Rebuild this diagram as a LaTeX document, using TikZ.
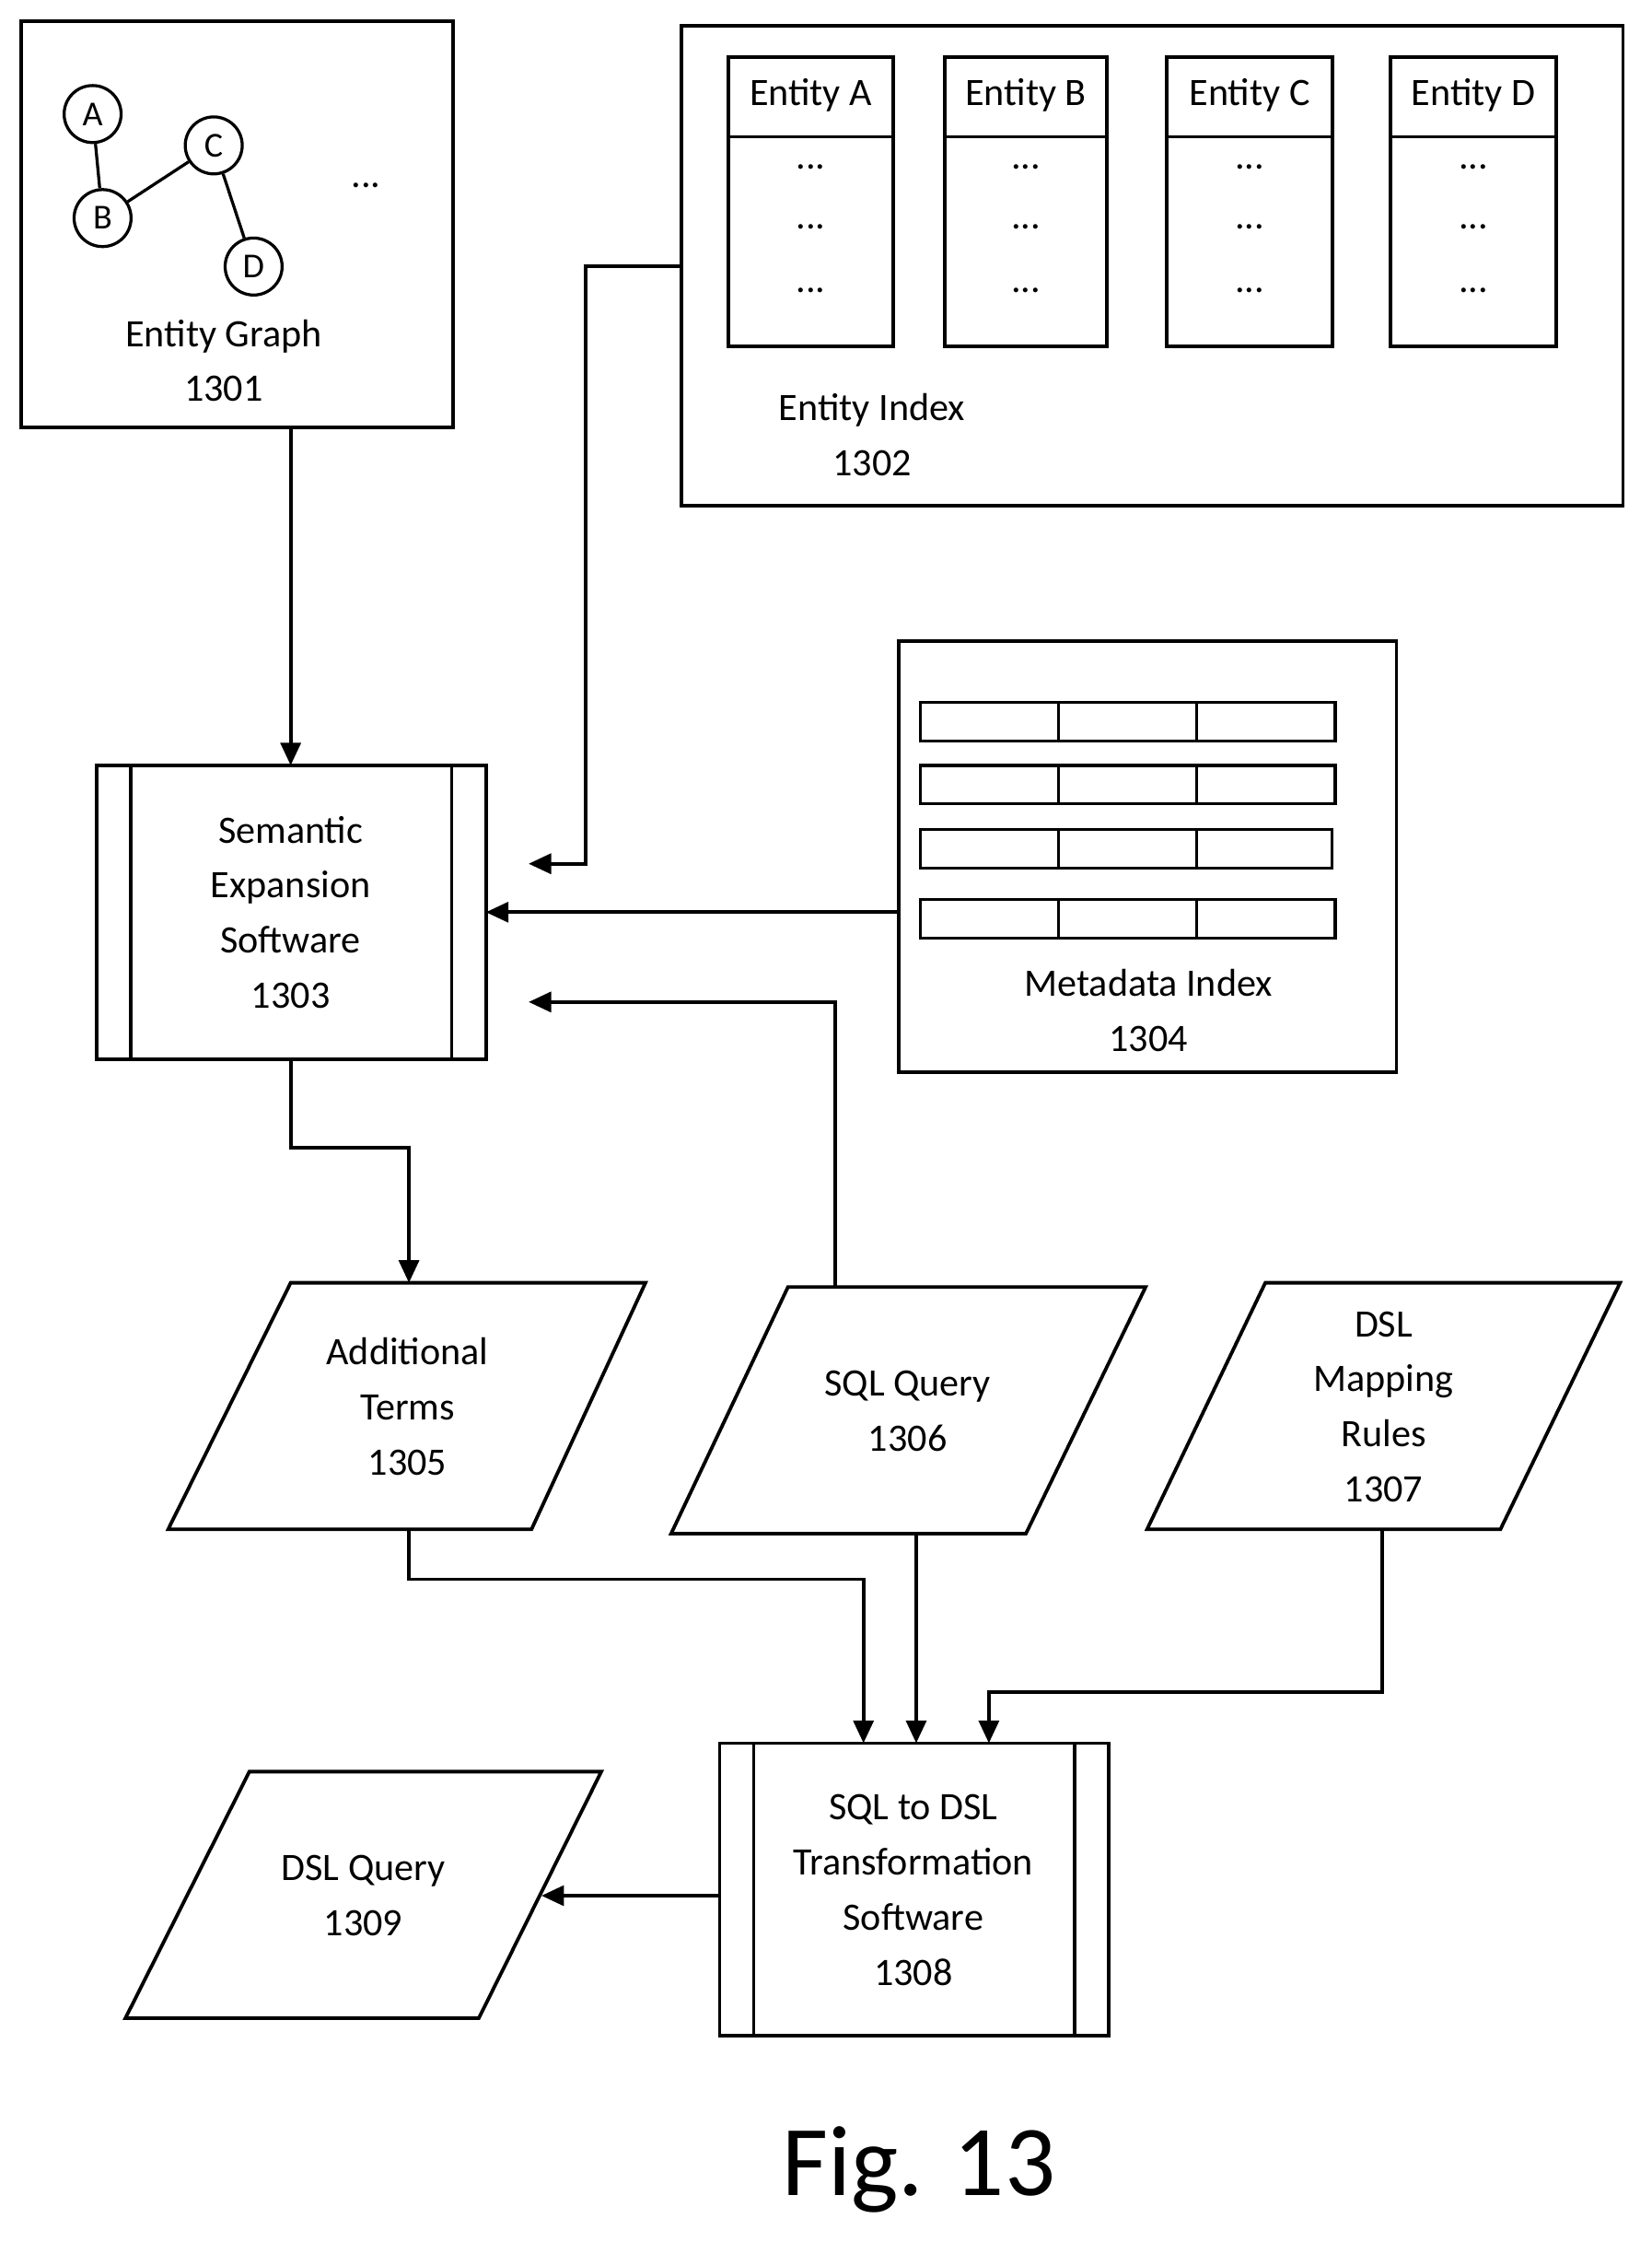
\documentclass[tikz,border=0pt]{standalone}
\usepackage{fontspec}
\setmainfont{Carlito}
\usetikzlibrary{arrows.meta}
\begin{document}
\begin{tikzpicture}[x=0.02cm,y=-0.02cm,
  box/.style={draw,line width=1.4pt},
  lbl/.style={align=center,font=\fontsize{15.5}{22}\selectfont},
  arr/.style={line width=1.4pt,-{Triangle[length=9pt,width=8pt]}},
  circ/.style={draw,circle,line width=1.2pt,minimum size=0.8cm,inner sep=0pt,font=\fontsize{14}{16}\selectfont}]
\useasboundingbox (0,0) rectangle (1159,1573);
% Entity graph
\draw[box] (15,15) rectangle (318,300);
\node[circ] (A) at (65,80) {A};
\node[circ] (B) at (72,153) {B};
\node[circ] (C) at (150,102) {C};
\node[circ] (D) at (178,187) {D};
\draw[line width=1.2pt] (A)--(B) (B)--(C) (C)--(D);
\node[lbl] (gd) at (257,130) {...};
\node[lbl] (eg) at (157,253) {Entity Graph\\1301};
\coordinate (egb) at (204,300);
% Entity index
\draw[box] (478,18) rectangle (1139,355);
\foreach \x/\w/\n in {511/627/A,663/777/B,819/935/C,976/1092/D}{
  \draw[box] (\x,40) rectangle (\w,243);
  \draw[box] (\x,96) -- (\w,96);
  \node[lbl] at ({(\x+\w)/2},67) {Entity \n};
  \foreach \y in {123,165,210} \node[lbl] at ({(\x+\w)/2},\y-6) {...};
}
\node[lbl] (ei) at (612,305) {Entity Index\\1302};
\coordinate (eil) at (478,187);
% Semantic
\draw[box] (68,537) rectangle (341,743);
\draw[box] (92,537)--(92,743) (317,537)--(317,743);
\node[lbl] (se) at (204,640) {Semantic\\Expansion\\Software\\1303};
% Metadata
\draw[box] (631,450) rectangle (980,752);
\foreach \y/\x in {493/937,537/937,582/935,631/937}{
  \draw[line width=1.2pt] (646,\y) rectangle (\x,\y+27);
  \draw[line width=1.2pt] (743,\y)--(743,\y+27) (840,\y)--(840,\y+27);
}
\node[lbl] (mi) at (806,709) {Metadata Index\\1304};
% Parallelograms
\draw[box] (204,900)--(453,900)--(373,1073)--(118,1073)--cycle;
\node[lbl] (at) at (286,987) {Additional\\Terms\\1305};
\draw[box] (553,903)--(804,903)--(720,1076)--(471,1076)--cycle;
\node[lbl] (sq) at (637,990) {SQL Query\\1306};
\draw[box] (888,900)--(1137,900)--(1053,1073)--(805,1073)--cycle;
\node[lbl] (dm) at (971,987) {DSL\\Mapping\\Rules\\1307};
\draw[box] (175,1243)--(422,1243)--(336,1416)--(88,1416)--cycle;
\node[lbl] (dq) at (255,1330) {DSL Query\\1309};
% SQL to DSL
\draw[box] (505,1223) rectangle (778,1428);
\draw[box] (529,1223)--(529,1428) (754,1223)--(754,1428);
\node[lbl] (sd) at (641,1326) {SQL to DSL\\Transformation\\Software\\1308};
\node[font=\fontsize{40}{44}\selectfont] (fig) at (645,1522) {Fig. 13};
% Arrows
\draw[arr] (egb)--(204,537);
\draw[arr] (eil)--(411,187)--(411,606)--(371,606);
\draw[arr] (631,640)--(341,640);
\draw[arr] (586,903)--(586,703)--(371,703);
\draw[arr] (204,743)--(204,805)--(287,805)--(287,900);
\draw[arr] (287,1073)--(287,1108)--(606,1108)--(606,1223);
\draw[arr] (643,1076)--(643,1223);
\draw[arr] (970,1073)--(970,1187)--(694,1187)--(694,1223);
\draw[arr] (505,1330)--(380,1330);
\end{tikzpicture}
\end{document}
